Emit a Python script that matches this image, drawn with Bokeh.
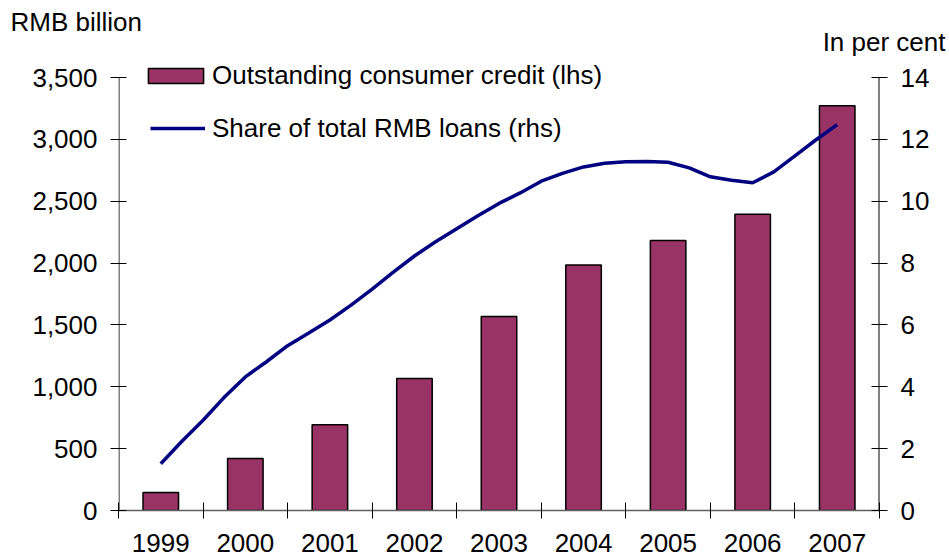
from bokeh.plotting import figure
from bokeh.models import (Range1d, LinearAxis, FixedTicker, NumeralTickFormatter,
                          Title, Legend, LegendItem)
from bokeh.embed import file_html
from bokeh.resources import INLINE

years = ["1999", "2000", "2001", "2002", "2003", "2004", "2005", "2006", "2007"]
credit = [145, 420, 694, 1067, 1569, 1985, 2183, 2396, 3273]
# quarterly share of total RMB loans, in per cent (1999 to 2007)
share = [1.51, 2.24, 2.92, 3.66, 4.32, 4.81, 5.33, 5.74, 6.16, 6.64, 7.16, 7.71,
         8.23, 8.69, 9.11, 9.53, 9.93, 10.27, 10.65, 10.90, 11.11, 11.23, 11.28,
         11.29, 11.26, 11.08, 10.79, 10.68, 10.60, 10.95, 11.47, 11.99, 12.48]
left_ticks = [0, 500, 1000, 1500, 2000, 2500, 3000, 3500]
right_ticks = [0, 2, 4, 6, 8, 10, 12, 14]
left_max = 3500
right_max = 14

FONT = "Liberation Sans"
FS = "26px"

# frame reaches above the top tick so the legend is not clipped
TOP_PAD = 37          # px between frame top and top tick
FRAME_H = 432         # px from 0 to top tick
pad_frac = TOP_PAD / FRAME_H

n = len(years)
bar_x = [i + 0.5 for i in range(n)]
line_x = [0.5 + k / 4 for k in range(len(share))]

p = figure(width=949, height=559, output_backend="svg", toolbar_location=None,
           x_range=Range1d(0, n),
           y_range=Range1d(0, left_max * (1 + pad_frac)),
           min_border_left=118, min_border_right=70, min_border_top=0,
           min_border_bottom=49, x_axis_location=None, y_axis_location=None)
p.outline_line_color = None
p.grid.visible = False
p.extra_y_ranges = {"pct": Range1d(0, right_max * (1 + pad_frac))}

bars = p.vbar(x=bar_x, top=credit, width=0.42, fill_color="#993366",
              line_color="black", line_width=1.5)
line = p.line(x=line_x, y=share, y_range_name="pct", line_color="#000080",
              line_width=3.5)

# axis lines (only up to the top tick)
p.segment(x0=[0], y0=[0], x1=[0], y1=[left_max], line_color="#808080", line_width=3)
p.segment(x0=[n], y0=[0], x1=[n], y1=[left_max], line_color="black", line_width=2)

# left axis
ly = LinearAxis(ticker=FixedTicker(ticks=left_ticks),
                formatter=NumeralTickFormatter(format="0,0"))
ly.axis_line_color = None
ly.major_tick_in = 8
ly.major_tick_out = 8
ly.major_tick_line_color = "black"
ly.minor_tick_line_color = None
ly.major_label_standoff = 13
ly.major_label_text_font = FONT
ly.major_label_text_font_size = FS
ly.major_label_text_color = "black"
p.add_layout(ly, "left")

# right axis
ry = LinearAxis(y_range_name="pct", ticker=FixedTicker(ticks=right_ticks))
ry.axis_line_color = None
ry.major_tick_in = 8
ry.major_tick_out = 8
ry.minor_tick_line_color = None
ry.major_label_standoff = 13
ry.major_label_text_font = FONT
ry.major_label_text_font_size = FS
ry.major_label_text_color = "black"
p.add_layout(ry, "right")

# bottom axis
bx = LinearAxis(ticker=FixedTicker(ticks=bar_x, minor_ticks=list(range(n + 1))))
bx.major_label_overrides = {x: y for x, y in zip(bar_x, years)}
bx.axis_line_color = "#606060"
bx.axis_line_width = 1.5
bx.major_tick_line_color = None
bx.major_tick_in = 0
bx.major_tick_out = 0
bx.minor_tick_in = 8
bx.minor_tick_out = 8
bx.minor_tick_line_color = "black"
bx.major_label_standoff = 15
bx.major_label_text_font = FONT
bx.major_label_text_font_size = FS
bx.major_label_text_color = "black"
p.add_layout(bx, "below")

# axis titles
p.add_layout(Title(text="In per cent", align="right", offset=-66, standoff=-32,
                   text_font=FONT, text_font_size=FS, text_font_style="normal",
                   text_color="black"), "above")
p.add_layout(Title(text="RMB billion", align="left", offset=-108, standoff=8,
                   text_font=FONT, text_font_size=FS, text_font_style="normal",
                   text_color="black"), "above")


def make_legend(item, loc, gw, gh, standoff):
    lg = Legend(items=[item], location=loc)
    lg.padding = 0
    lg.margin = 0
    lg.border_line_color = None
    lg.background_fill_alpha = 0
    lg.glyph_width = gw
    lg.glyph_height = gh
    lg.label_height = 34
    lg.label_standoff = standoff
    lg.label_text_font = FONT
    lg.label_text_font_size = FS
    lg.label_text_color = "black"
    return lg


p.add_layout(make_legend(LegendItem(label="Outstanding consumer credit (lhs)",
                                    renderers=[bars]), (23, 418), 69, 19, 2))
p.add_layout(make_legend(LegendItem(label="Share of total RMB loans (rhs)",
                                    renderers=[line]), (32, 365), 55, 16, 7))

open("out.html", "w").write(file_html(p, INLINE))
